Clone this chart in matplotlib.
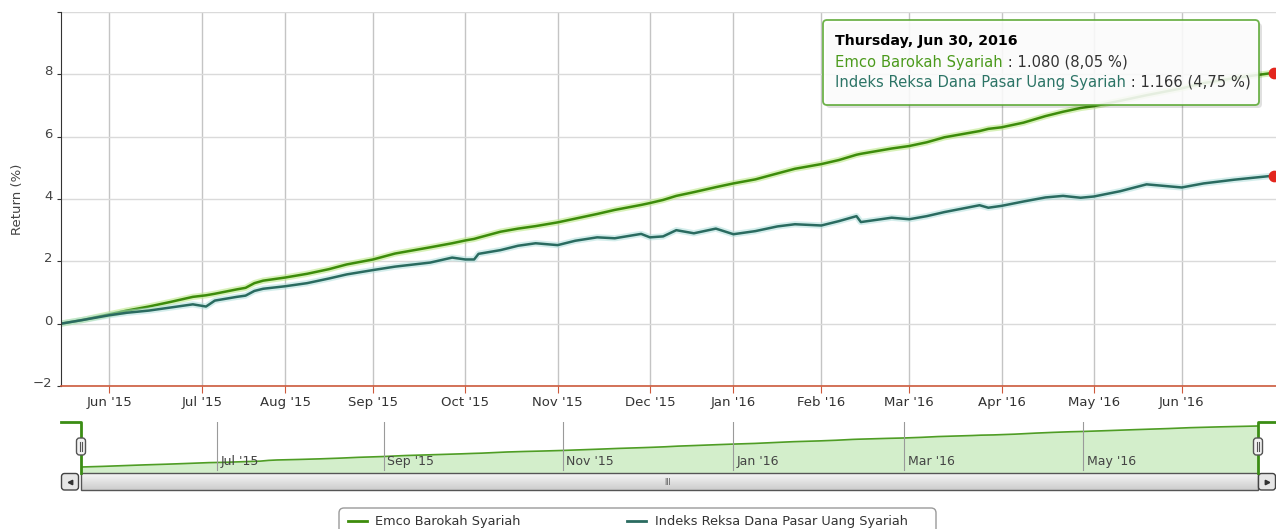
import numpy as np
import pandas as pd
import matplotlib.pyplot as plt
from matplotlib.patches import FancyBboxPatch, Rectangle
from matplotlib.colors import LinearSegmentedColormap
from matplotlib.transforms import ScaledTranslation

# Values (return in %, by date)
dates = [
    "2015-05-15", "2015-05-22", "2015-06-01", "2015-06-08", "2015-06-15",
    "2015-06-22", "2015-06-29", "2015-07-02", "2015-07-06", "2015-07-13",
    "2015-07-15", "2015-07-23", "2015-07-27", "2015-08-03", "2015-08-10",
    "2015-08-18", "2015-08-24", "2015-09-01", "2015-09-08", "2015-09-18",
    "2015-09-28", "2015-10-01", "2015-10-05", "2015-10-06", "2015-10-13",
    "2015-10-20", "2015-10-26", "2015-11-02", "2015-11-06", "2015-11-13",
    "2015-11-19", "2015-11-27", "2015-12-01", "2015-12-04", "2015-12-10",
    "2015-12-16", "2015-12-23", "2016-01-04", "2016-01-11", "2016-01-18",
    "2016-01-22", "2016-02-01", "2016-02-05", "2016-02-12", "2016-02-15",
    "2016-02-24", "2016-03-01", "2016-03-07", "2016-03-14", "2016-03-24",
    "2016-03-29", "2016-04-01", "2016-04-08", "2016-04-15", "2016-04-21",
    "2016-04-27", "2016-05-02", "2016-05-12", "2016-05-20", "2016-06-01",
    "2016-06-08", "2016-06-17", "2016-06-30",
]
emco = [
    0.00, 0.12, 0.30, 0.42, 0.55, 0.70, 0.86, 0.91, 0.96, 1.10,
    1.15, 1.30, 1.38, 1.48, 1.60, 1.75, 1.90, 2.06, 2.25, 2.45,
    2.58, 2.67, 2.72, 2.76, 2.95, 3.05, 3.13, 3.25, 3.37, 3.52,
    3.65, 3.81, 3.87, 3.97, 4.10, 4.22, 4.38, 4.50, 4.63, 4.82,
    4.97, 5.12, 5.25, 5.42, 5.45, 5.62, 5.70, 5.82, 5.98, 6.18,
    6.25, 6.30, 6.45, 6.66, 6.80, 6.92, 6.98, 7.15, 7.33, 7.55,
    7.72, 7.88, 8.05,
]
indeks = [
    0.00, 0.12, 0.27, 0.35, 0.42, 0.52, 0.62, 0.55, 0.74, 0.86,
    0.90, 1.05, 1.12, 1.20, 1.30, 1.45, 1.58, 1.72, 1.83, 1.96,
    2.12, 2.06, 2.06, 2.24, 2.36, 2.50, 2.58, 2.52, 2.66, 2.77,
    2.74, 2.88, 2.77, 2.80, 3.00, 2.90, 3.05, 2.87, 2.97, 3.12,
    3.19, 3.15, 3.29, 3.45, 3.26, 3.40, 3.35, 3.45, 3.58, 3.80,
    3.72, 3.78, 3.92, 4.05, 4.10, 4.04, 4.08, 4.25, 4.47, 4.37,
    4.50, 4.62, 4.75,
]
series_names = ["Emco Barokah Syariah", "Indeks Reksa Dana Pasar Uang Syariah"]
nav_last = [1.080, 1.166]
tooltip_title = "Thursday, Jun 30, 2016"

# exchange holidays (the x axis only counts trading days)
holidays = [
    "2015-05-14", "2015-06-02", "2015-07-16", "2015-07-17", "2015-07-20",
    "2015-07-21", "2015-08-17", "2015-09-24", "2015-10-14", "2015-12-09",
    "2015-12-24", "2015-12-25", "2015-12-31", "2016-01-01", "2016-02-08",
    "2016-03-09", "2016-03-25", "2016-05-05", "2016-05-06",
]

green = '#3d8c0b'
teal = '#2a6b60'

d = np.array(dates, dtype='datetime64[D]')
pos = np.busday_count(d[0], d, holidays=holidays)
last = pos[-1]

months = np.arange('2015-06', '2016-07', dtype='datetime64[M]')
first_days = np.busday_offset(months.astype('datetime64[D]'), 0, roll='forward', holidays=holidays)
tick_pos = np.busday_count(d[0], first_days, holidays=holidays)
tick_labels = [pd.Timestamp(m).strftime("%b '%y") for m in months]

W, H = 1276, 529
fig = plt.figure(figsize=(W / 100, H / 100), dpi=100)


def frac(x0, y0, x1, y1):
    return [x0 / W, 1 - y1 / H, (x1 - x0) / W, (y1 - y0) / H]


# main chart
ax = fig.add_axes(frac(61, 12, 1276, 386))
ax.set_xlim(0, last * (1276 - 61) / (1274 - 61))
ax.set_ylim(-2, 10)
ax.set_xticks(tick_pos)
ax.set_xticklabels(tick_labels)
ax.set_yticks([-2, 0, 2, 4, 6, 8, 10])
ax.set_yticklabels(['\u22122', '0', '2', '4', '6', '8', ''])
ax.grid(axis='x', color='#c4c4c4', lw=1)
ax.grid(axis='y', color='#dadada', lw=1)
ax.set_axisbelow(True)
for s in ['top', 'right']:
    ax.spines[s].set_visible(False)
ax.spines['left'].set_color('#333333')
ax.spines['bottom'].set_color('#cc5a3c')
ax.spines['bottom'].set_linewidth(1.2)
ax.tick_params(axis='x', length=5, color='#cc5a3c', labelcolor='#333333', labelsize=9.5, pad=2)
ax.tick_params(axis='y', length=3, color='#333333', labelcolor='#444444', labelsize=9.5, pad=3)
for lbl in ax.get_yticklabels():
    lbl.set_transform(lbl.get_transform() + ScaledTranslation(0, 4 / 100, fig.dpi_scale_trans))

ax.plot(pos, emco, color='#bde88a', lw=4.5, alpha=0.6, solid_capstyle='round')
ax.plot(pos, emco, color=green, lw=1.8)
ax.plot(pos, indeks, color='#a9dcd9', lw=4.5, alpha=0.5, solid_capstyle='round')
ax.plot(pos, indeks, color=teal, lw=1.8)
ax.scatter([pos[-1], pos[-1]], [emco[-1], indeks[-1]], s=55, color='#e3261e', zorder=5, clip_on=False)

fig.text(18 / W, 1 - 199 / H, 'Return (%)', rotation=90, ha='center', va='center',
         fontsize=9.5, color='#444444')

# navigator
nav = fig.add_axes(frac(81, 422, 1258, 473))
vmin, vmax = min(emco), max(emco)
span = vmax - vmin
nav.set_xlim(0, last)
nav.set_ylim(vmin - span * 6 / 41, vmax + span * 4 / 41)
nav.fill_between(pos, emco, vmin - span, color='#d3eecb')
nav.plot(pos, emco, color='#4f9d25', lw=1.2)
for p, lab in zip(tick_pos[1::2], tick_labels[1::2]):
    nav.axvline(p, ymin=0.06, ymax=1, color='#9a9a9a', lw=0.8)
    nav.annotate(lab, xy=(p, 0.22), xycoords=('data', 'axes fraction'), xytext=(2.5, 0),
                 textcoords='offset points', va='center', ha='left', fontsize=9, color='#444444')
nav.axis('off')

# decorations drawn in pixel space
deco = fig.add_axes([0, 0, 1, 1])
deco.set_zorder(5)

grad = np.linspace(0, 1, 20).reshape(-1, 1)
cm = LinearSegmentedColormap.from_list('bar', ['#f6f6f6', '#cdcdcd'])
deco.imshow(grad, extent=[81, 1258, 490, 473], cmap=cm, aspect='auto')
deco.add_patch(Rectangle((81, 473), 1177, 17, fill=False, edgecolor='#555555', lw=1))
for bx, mk in [(61.5, '<'), (1258.5, '>')]:
    deco.add_patch(FancyBboxPatch((bx, 473.5), 17, 16.5, boxstyle='round,pad=0,rounding_size=3',
                                  facecolor='#e6e6e6', edgecolor='#444444', lw=1))
    deco.plot(bx + 8.5, 482, marker=mk, ms=3.2, color='#333333')
deco.text(668, 482.5, 'III', fontsize=5.5, color='#555555', ha='center', va='center')

deco.plot([61, 81, 81], [422, 422, 473], color='#3b8d14', lw=2)
deco.plot([1258, 1258, 1276], [473, 422, 422], color='#3b8d14', lw=2)
for hx in (81, 1258):
    deco.add_patch(FancyBboxPatch((hx - 4.5, 438), 9, 17, boxstyle='round,pad=0,rounding_size=3',
                                  facecolor='#f2f2f2', edgecolor='#555555', lw=1, zorder=4))
    for dx in (-1.3, 1.3):
        deco.plot([hx + dx, hx + dx], [442, 451], color='#555555', lw=0.8, zorder=5)

# legend
deco.add_patch(FancyBboxPatch((339, 508), 597, 40, boxstyle='round,pad=0,rounding_size=5',
                              facecolor='white', edgecolor='#9a9a9a', lw=1))
deco.plot([348, 367], [521, 521], color=green, lw=2)
deco.text(375, 521, series_names[0], fontsize=9.3, color='#333333', va='center')
deco.plot([627, 646], [521, 521], color=teal, lw=2)
deco.text(655, 521, series_names[1], fontsize=9.3, color='#333333', va='center')

# tooltip
deco.add_patch(FancyBboxPatch((826, 23), 436, 85, boxstyle='round,pad=0,rounding_size=4',
                              facecolor='black', alpha=0.12, lw=0))
deco.add_patch(FancyBboxPatch((823, 20), 436, 85, boxstyle='round,pad=0,rounding_size=4',
                              facecolor='white', alpha=0.88, edgecolor='#5aa832', lw=1.3))
deco.text(835, 41, tooltip_title, fontsize=10.2, weight='bold', color='black', va='center')
for i, (name, col, nav_v, ret) in enumerate(zip(series_names, ['#4b9a1c', '#2c7466'], nav_last,
                                                 [emco[-1], indeks[-1]])):
    t = deco.text(835, 62 + 20 * i, name, fontsize=10.6, color=col, va='center')
    rest = " : {:.3f} ({} %)".format(nav_v, "{:.2f}".format(ret).replace('.', ','))
    deco.annotate(rest, xy=(1, 0.5), xycoords=t, va='center', ha='left', fontsize=10.6, color='#333333')

deco.set_xlim(0, W)
deco.set_ylim(H, 0)
deco.axis('off')

fig.savefig('out.png', dpi=100)
